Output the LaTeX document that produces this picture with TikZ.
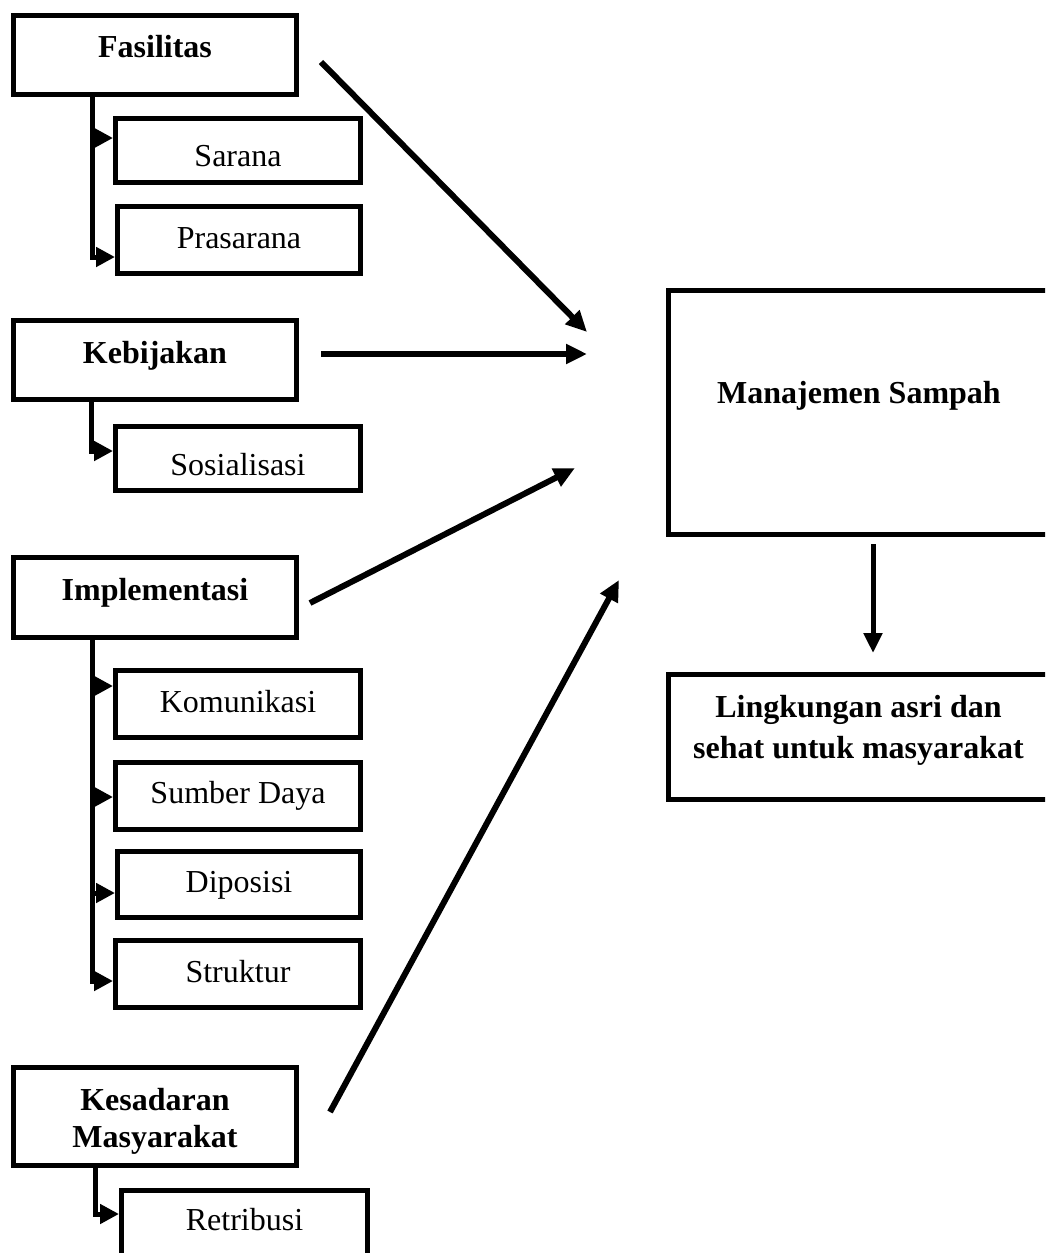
\documentclass[tikz,border=0pt]{standalone}
\usepackage{fontspec}
\setmainfont{Liberation Serif}
\usetikzlibrary{arrows.meta}
\begin{document}
\begin{tikzpicture}[x=1pt,y=-1pt,
  box/.style={draw, line width=5pt, inner sep=0pt, outer sep=0pt},
  lbl/.style={inner sep=0pt, anchor=base, font=\fontsize{32}{37}\selectfont},
  blbl/.style={lbl, font=\fontsize{32}{37}\selectfont\bfseries},
  branch/.style={line width=5pt, -{Triangle[length=19pt,width=19pt]}},
  mainarrow/.style={line width=6pt, -{Triangle[length=21pt,width=19pt]}},
  downarrow/.style={line width=5pt, -{Triangle[length=20pt,width=18pt]}}]
\useasboundingbox (0,0) rectangle (1045,1253);
\clip (0,0) rectangle (1045,1253);
% boxes
\node[box, minimum width=283pt, minimum height=79pt] (fas) at (155,55) {};
\node[box, minimum width=245pt, minimum height=64pt] (sar) at (238,150.5) {};
\node[box, minimum width=243pt, minimum height=67pt] (pra) at (239,240) {};
\node[box, minimum width=283pt, minimum height=79pt] (keb) at (155,360) {};
\node[box, minimum width=245pt, minimum height=64pt] (sos) at (238,458.5) {};
\node[box, minimum width=283pt, minimum height=80pt] (imp) at (155,597.5) {};
\node[box, minimum width=245pt, minimum height=67pt] (kom) at (238,704) {};
\node[box, minimum width=245pt, minimum height=67pt] (sum) at (238,796) {};
\node[box, minimum width=243pt, minimum height=66pt] (dip) at (239,884.5) {};
\node[box, minimum width=245pt, minimum height=67pt] (str) at (238,974) {};
\node[box, minimum width=283pt, minimum height=98pt] (kes) at (155,1116.5) {};
\node[box, minimum width=246pt, minimum height=99.5pt] (ret) at (244.5,1240.25) {};
\node[box, minimum width=380.5pt, minimum height=244pt] (man) at (858.75,412.5) {};
\node[box, minimum width=380.5pt, minimum height=125pt] (lin) at (858.75,737) {};
% texts
\node[blbl] (tfas) at (155,57) {Fasilitas};
\node[lbl] (tsar) at (238,166) {Sarana};
\node[lbl] (tpra) at (239,248) {Prasarana};
\node[blbl] (tkeb) at (155,363) {Kebijakan};
\node[lbl] (tsos) at (238,475) {Sosialisasi};
\node[blbl] (timp) at (155,600) {Implementasi};
\node[lbl] (tkom) at (238,712) {Komunikasi};
\node[lbl] (tsum) at (238,803) {Sumber Daya};
\node[lbl] (tdip) at (239,892) {Diposisi};
\node[lbl] (tstr) at (238,982) {Struktur};
\node[blbl, align=center] (tkes) at (155,1147) {Kesadaran\\Masyarakat};
\node[lbl] (tret) at (244.5,1230) {Retribusi};
\node[blbl] (tman) at (859,403) {Manajemen Sampah};
\node[blbl, align=center, font=\fontsize{32}{41}\selectfont\bfseries] (tlin) at (858.5,758) {Lingkungan asri dan\\sehat untuk masyarakat};
% branch connectors
\draw[branch] ([xshift=78.5pt]fas.south west) |- ([shift={(-2.5pt,12.5pt)}]sar.west);
\draw[branch] ([xshift=78.5pt]fas.south west) |- ([shift={(-2.5pt,-17pt)}]pra.west);
\draw[branch] ([xshift=77.5pt]keb.south west) |- ([shift={(-2.5pt,7.5pt)}]sos.west);
\draw[branch] ([xshift=78.5pt]imp.south west) |- ([shift={(-2.5pt,18pt)}]kom.west);
\draw[branch] ([xshift=78.5pt]imp.south west) |- ([shift={(-2.5pt,-1pt)}]sum.west);
\draw[branch] ([xshift=78.5pt]imp.south west) |- ([shift={(-2.5pt,-8.5pt)}]dip.west);
\draw[branch] ([xshift=78.5pt]imp.south west) |- ([shift={(-2.5pt,-7pt)}]str.west);
\draw[branch] ([xshift=81.5pt]kes.south west) |- ([shift={(-2.5pt,26.25pt)}]ret.west);
% main arrows
\coordinate (in1) at (587,332);
\coordinate (in2) at (587,354);
\coordinate (in3) at (575,468);
\coordinate (in4) at (619,580);
\draw[mainarrow] ([shift={(24.5pt,-7pt)}]fas.east) -- (in1);
\draw[mainarrow] ([shift={(24.5pt,6pt)}]keb.east) -- (in2);
\draw[mainarrow] ([shift={(13.5pt,-5.5pt)}]imp.east) -- (in3);
\draw[mainarrow] ([shift={(33.5pt,4.5pt)}]kes.east) -- (in4);
\draw[downarrow] ([shift={(14.25pt,-9.5pt)}]man.south) -- ([shift={(14.25pt,21.5pt)}]lin.north);
\end{tikzpicture}
\end{document}
